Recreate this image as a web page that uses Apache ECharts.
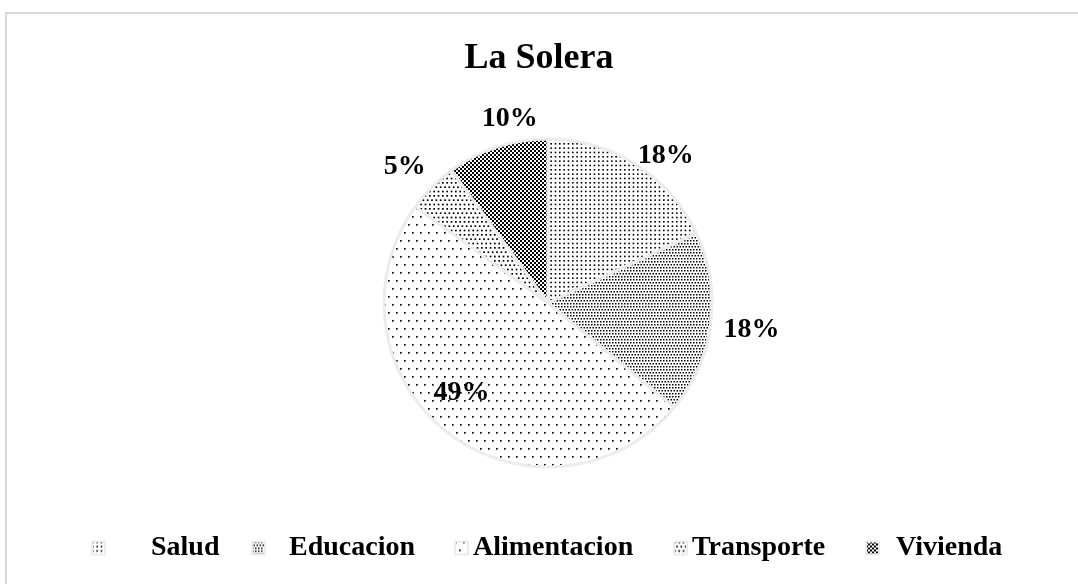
<!DOCTYPE html>
<html>
<head>
<meta charset="utf-8">
<script src="https://cdn.jsdelivr.net/npm/echarts@6/dist/echarts.min.js"></script>
<style>
  html, body { margin: 0; padding: 0; background: #fff; }
  #chart { width: 1078px; height: 584px; }
</style>
</head>
<body>
<div id="chart"></div>
<script>
  // datos
  var titulo = 'La Solera';
  var categorias = ['Salud', 'Educacion', 'Alimentacion', 'Transporte', 'Vivienda'];
  var valores = [18, 18, 49, 5, 10];

  var FONT = '"Liberation Serif", "Times New Roman", serif';
  var cx = 548, cy = 303, radio = 164;

  // ajuste de etiquetas (grados, distancia al centro)
  var desvioEtiqueta = [5.9, -0.2, 6.9, -1, 6.4];
  var distEtiqueta = [190, 205, 123, 199, 190];

  // leyenda: posicion del icono y separacion con el texto
  var leyendaLeft = [91, 251, 454, 673, 865];
  var leyendaGap = [41, 19, 0, 0, 12];

  // tramas tipo excel
  function trama(tile, paso, punto, alternar, checker) {
    var c = document.createElement('canvas');
    c.width = tile; c.height = tile;
    var ctx = c.getContext('2d');
    ctx.fillStyle = '#fff';
    ctx.fillRect(0, 0, tile, tile);
    ctx.fillStyle = '#000';
    var n = Math.round(tile / paso);
    for (var j = 0; j < n; j++) {
      for (var i = 0; i < n; i++) {
        var x = i * paso + ((alternar && j % 2) ? paso / 2 : 0);
        var y = j * paso;
        ctx.fillRect(x % tile, y, punto, punto);
        if (checker) ctx.fillRect((x + paso / 2) % tile, y + paso / 2, punto, punto);
      }
    }
    return { image: c, repeat: 'repeat' };
  }

  var tramas = [
    trama(13, 13 / 3, 1.6, false, false),   // Salud
    trama(9, 3, 1.5, true, false),          // Educacion
    trama(16, 8, 1.7, true, false),         // Alimentacion
    trama(13, 13 / 3, 1.7, true, false),    // Transporte
    trama(4, 4, 2, false, true)             // Vivienda
  ];

  var total = valores.reduce(function (a, b) { return a + b; }, 0);

  var myChart = echarts.init(document.getElementById('chart'));
  var option = {
    animation: false,
    backgroundColor: '#fff',
    graphic: [{
      type: 'rect',
      shape: { x: 6, y: 13, width: 1120, height: 620 },
      style: { fill: 'none', stroke: '#d9d9d9', lineWidth: 2 },
      silent: true
    }],
    title: {
      text: titulo,
      left: 'center',
      top: 41,
      padding: 0,
      textStyle: { fontFamily: FONT, fontSize: 36, fontWeight: 'bold', color: '#000' }
    },
    legend: categorias.map(function (c, i) {
      return {
        data: [c],
        left: leyendaLeft[i],
        top: 534,
        padding: 0,
        icon: 'rect',
        itemWidth: 13,
        itemHeight: 13,
        selectedMode: false,
        itemStyle: { borderColor: '#ececec', borderWidth: 2 },
        textStyle: {
          fontFamily: FONT, fontSize: 28, fontWeight: 'bold', color: '#000',
          padding: [0, 0, 0, leyendaGap[i]]
        }
      };
    }),
    series: [{
      type: 'pie',
      center: [cx, cy],
      radius: radio,
      startAngle: 90,
      clockwise: true,
      avoidLabelOverlap: false,
      itemStyle: { borderColor: '#ececec', borderWidth: 3 },
      label: {
        show: true,
        position: 'outside',
        formatter: '{d}%',
        fontFamily: FONT,
        fontSize: 28,
        fontWeight: 'bold',
        color: '#000'
      },
      labelLine: { show: false },
      labelLayout: function (p) {
        var i = p.dataIndex;
        var acum = 0;
        for (var k = 0; k < i; k++) acum += valores[k];
        var ang = (360 * (acum + valores[i] / 2) / total + desvioEtiqueta[i]) * Math.PI / 180;
        return {
          x: cx + distEtiqueta[i] * Math.sin(ang),
          y: cy - distEtiqueta[i] * Math.cos(ang) + 2,
          align: 'center',
          verticalAlign: 'middle'
        };
      },
      emphasis: { disabled: true },
      data: categorias.map(function (c, i) {
        return { name: c, value: valores[i], itemStyle: { color: tramas[i] } };
      })
    }]
  };
  myChart.setOption(option);
</script>
</body>
</html>
